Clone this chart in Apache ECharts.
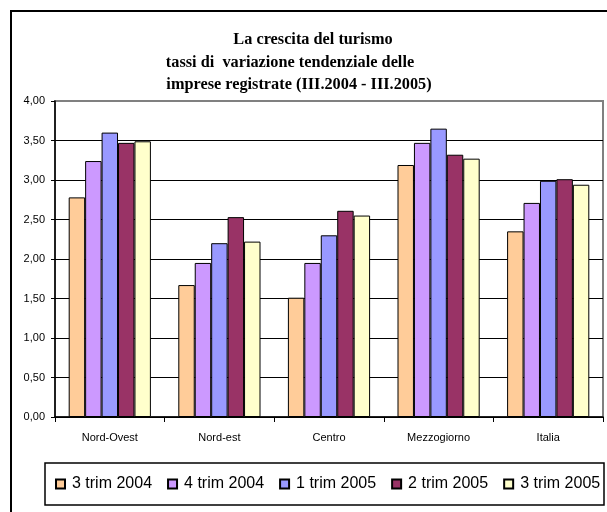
<!DOCTYPE html>
<html>
<head>
<meta charset="utf-8">
<script src="https://cdn.jsdelivr.net/npm/echarts@6/dist/echarts.min.js"></script>
<style>
  html, body { margin: 0; padding: 0; background: #fff; }
  #chart { width: 607px; height: 512px; }
</style>
</head>
<body>
<div id="chart"></div>
<script>
const categories = ["Nord-Ovest", "Nord-est", "Centro", "Mezzogiorno", "Italia"];
const seriesNames = ["3 trim 2004", "4 trim 2004", "1 trim 2005", "2 trim 2005", "3 trim 2005"];
const trim3_2004 = [2.78, 1.67, 1.51, 3.19, 2.35];
const trim4_2004 = [3.24, 1.95, 1.95, 3.47, 2.71];
const trim1_2005 = [3.60, 2.20, 2.30, 3.65, 2.99];
const trim2_2005 = [3.47, 2.53, 2.61, 3.32, 3.01];
const trim3_2005 = [3.49, 2.22, 2.55, 3.27, 2.94];
const colors = ["#FFCC99", "#CC99FF", "#9999FF", "#993366", "#FFFFCC"];
const titleLines = [
  "La crescita del turismo",
  "tassi di  variazione tendenziale delle",
  "imprese registrate (III.2004 - III.2005)",
];

const allValues = [trim3_2004, trim4_2004, trim1_2005, trim2_2005, trim3_2005];

const chart = echarts.init(document.getElementById("chart"), null, { renderer: "canvas" });

// each title line is centred a bit differently in the original
const titleCenters = [313, 290, 299];
const titleTops = [29, 51.5, 74];

const option = {
  animation: false,
  backgroundColor: "#fff",
  title: titleLines.map((line, i) => ({
    text: line,
    left: titleCenters[i],
    top: titleTops[i],
    textAlign: "center",
    padding: 0,
    textStyle: {
      fontFamily: "Liberation Serif",
      fontWeight: "bold",
      fontSize: 16.3,
      lineHeight: 22,
      color: "#000",
    },
  })),
  graphic: [
    {
      type: "rect",
      shape: { x: 11, y: 11, width: 620, height: 530 },
      style: { fill: "none", stroke: "#000", lineWidth: 2 },
      silent: true,
    },
    {
      type: "rect",
      shape: { x: 45, y: 463, width: 559, height: 42 },
      style: { fill: "none", stroke: "#000", lineWidth: 1.5 },
      silent: true,
    },
  ],
  legend: {
    data: seriesNames,
    left: 55,
    top: 476,
    width: 600,
    icon: "rect",
    itemWidth: 9,
    itemHeight: 9,
    itemGap: 15,
    padding: 0,
    textStyle: {
      fontFamily: "Liberation Sans",
      fontSize: 16,
      color: "#000",
      padding: [5, 0, 0, 2],
    },
  },
  grid: {
    left: 55,
    right: 4,
    top: 101,
    bottom: 95,
    show: true,
    borderColor: "#808080",
    borderWidth: 2,
  },
  xAxis: {
    type: "category",
    data: categories,
    axisLine: { lineStyle: { color: "#000", width: 1.5 } },
    axisTick: { show: true, length: 5, lineStyle: { color: "#000" } },
    axisLabel: {
      fontFamily: "Liberation Sans",
      fontSize: 11,
      color: "#000",
      margin: 15,
    },
  },
  yAxis: {
    type: "value",
    min: 0,
    max: 4,
    interval: 0.5,
    axisLine: { show: true, lineStyle: { color: "#000", width: 1.5 } },
    axisTick: { show: true, length: 4, lineStyle: { color: "#000" } },
    axisLabel: {
      fontFamily: "Liberation Sans",
      fontSize: 11,
      color: "#000",
      margin: 10,
      formatter: (v) => v.toFixed(2).replace(".", ","),
    },
    splitLine: {
      show: true,
      showMaxLine: false,
      lineStyle: { color: "#000", width: 1 },
    },
  },
  series: seriesNames.map((name, i) => ({
    name: name,
    type: "bar",
    data: allValues[i],
    barGap: "0%",
    barCategoryGap: "25%",
    itemStyle: {
      color: colors[i],
      borderColor: "#000",
      borderWidth: 1,
    },
  })),
};

chart.setOption(option);
</script>
</body>
</html>
